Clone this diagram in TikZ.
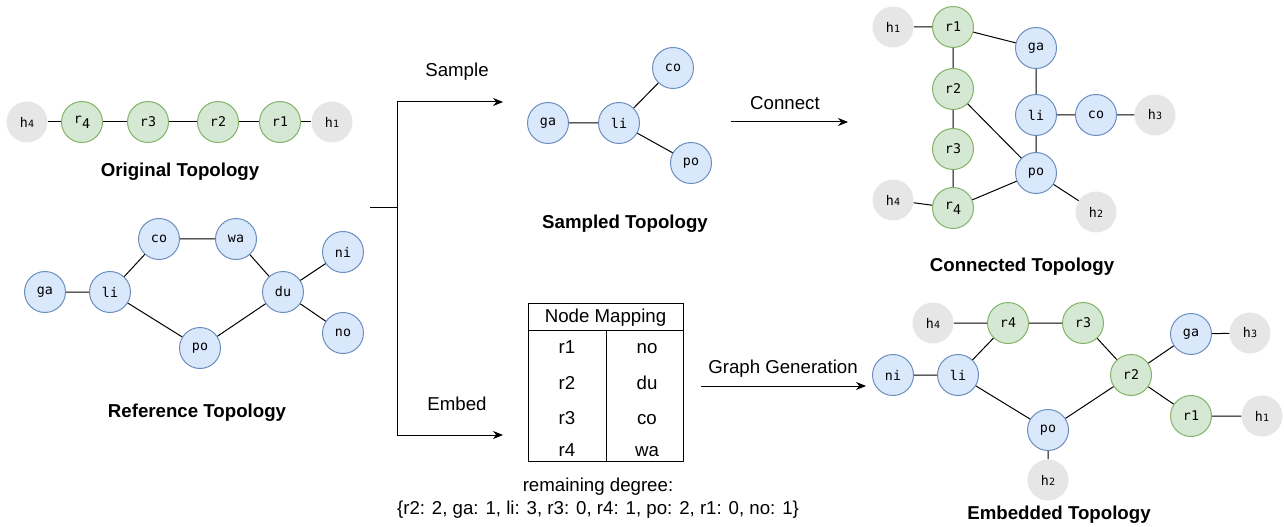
\documentclass[tikz,border=0pt]{standalone}
\usepackage{fontspec}
\setmainfont{Liberation Sans}
\setmonofont{DejaVu Sans Mono}
\usetikzlibrary{arrows.meta}
\definecolor{rtfill}{HTML}{D5E8D4}
\definecolor{rtline}{HTML}{82B366}
\definecolor{dcfill}{HTML}{DAE8FC}
\definecolor{dcline}{HTML}{6C8EBF}
\definecolor{hsfill}{HTML}{E6E6E6}
\newcommand\hn[1]{h{\fontsize{7.5}{7.5}\selectfont#1}}
\newcommand\rs[1]{r\raisebox{-.7ex}{#1}}
\tikzset{
	vx/.style={circle,minimum size=30.75pt,inner sep=0pt,font=\ttfamily\fontsize{10}{10}\selectfont},
	rt/.style={vx,draw=rtline,fill=rtfill,line width=.75pt},
	dc/.style={vx,draw=dcline,fill=dcfill,line width=.75pt},
	hs/.style={vx,fill=hsfill},
	ttl/.style={font=\bfseries\fontsize{14}{14}\selectfont},
	lbl/.style={font=\fontsize{14}{14}\selectfont},
	cell/.style={lbl,text height=10pt,text depth=3pt},
	ln/.style={line width=.75pt},
	ar/.style={ln,-{Stealth[length=7.5pt,width=6pt]}}
}
\begin{document}
\begin{tikzpicture}[x=.75pt,y=-.75pt,line join=round]
	\useasboundingbox (0,0) rectangle (1284,527);
	% original
	\foreach \n/\x/\s/\t in {h4/27/hs/\hn4,r4/82/rt/\rs4,r3/148/rt/r3,r2/218/rt/r2,r1/280/rt/r1,h1/332/hs/\hn1}
	\node[\s] (o\n) at (\x,122) {\t};
	\draw[ln] (oh4)--(or4)--(or3)--(or2)--(or1)--(oh1);
	\node[ttl] (otitle) at (180,172) {Original Topology};
	% reference
	\foreach \n/\x/\y in {ga/45/292,li/110/292,co/159/239,wa/236/239,du/283/292,ni/343/252,no/343/333,po/200/348}
	\node[dc] (f\n) at (\x,\y) {\n};
	\draw[ln] (fga)--(fli)--(fco)--(fwa)--(fdu)--(fni) (fli)--(fpo)--(fdu)--(fno);
	\node[ttl] (ftitle) at (197,413) {Reference Topology};
	% fork
	\coordinate (fork) at (370,208);
	\coordinate (split) at (397,208);
	\coordinate (up) at (397,102);
	\coordinate (down) at (397,435);
	\coordinate (upend) at (503,102);
	\coordinate (downend) at (503,435);
	\draw[ln] (fork)--(split) (up)--(down);
	\draw[ar] (up)--(upend);
	\draw[ar] (down)--(downend);
	\node[lbl] (sample) at (457,72) {Sample};
	\node[lbl] (embed) at (457,404) {Embed};
	% sampled
	\foreach \n/\x/\y in {ga/548/123,li/619/123,co/673/68,po/691/163}
	\node[dc] (s\n) at (\x,\y) {\n};
	\draw[ln] (sga)--(sli)--(sco) (sli)--(spo);
	\node[ttl] (stitle) at (625,224) {Sampled Topology};
	% connect
	\coordinate (cfrom) at (731,122);
	\coordinate (cto) at (848,122);
	\draw[ar] (cfrom)--(cto);
	\node[lbl] (connect) at (785,103) {Connect};
	\foreach \n/\x/\y/\s/\t in {h1/893/27/hs/\hn1,r1/953/27/rt/r1,ga/1036/48/dc/ga,r2/953/89/rt/r2,li/1036/115/dc/li,co/1096/115/dc/co,h3/1155/115/hs/\hn3,r3/953/149/rt/r3,po/1036/173/dc/po,r4/953/208/rt/\rs4,h4/893/200/hs/\hn4,h2/1096/212/hs/\hn2}
	\node[\s] (c\n) at (\x,\y) {\t};
	\draw[ln] (ch1)--(cr1)--(cga)--(cli)--(cco)--(ch3) (cr1)--(cr2)--(cr3)--(cr4)--(cpo)--(ch2)
	(cr2)--(cpo)--(cli) (ch4)--(cr4);
	\node[ttl] (ctitle) at (1022,267) {Connected Topology};
	% mapping
	\node[draw,ln,minimum width=116.25pt,minimum height=118.5pt,inner sep=0pt] (map) at (605.5,382) {};
	\coordinate (hl) at (528,330);
	\coordinate (hr) at (683,330);
	\coordinate (vt) at (606,330);
	\coordinate (vb) at (606,461);
	\draw[ln] (hl)--(hr) (vt)--(vb);
	\node[cell] (mhead) at (605.5,318) {Node Mapping};
	\foreach \a/\b/\y in {r1/no/349,r2/du/385,r3/co/420,r4/wa/452}{
		\node[cell] (m\a) at (567,\y) {\a};
		\node[cell] (m\b) at (647,\y) {\b};
	}
	\node[lbl,align=center] (degree) at (598,498) {remaining degree:\\[3pt]\{r2: 2, ga: 1, li: 3, r3: 0, r4: 1, po: 2, r1: 0, no: 1\}};
	% generation
	\coordinate (gfrom) at (701,386);
	\coordinate (gto) at (866,386);
	\draw[ar] (gfrom)--(gto);
	\node[lbl] (generate) at (783,369) {Graph Generation};
	% embedded
	\foreach \n/\x/\y/\s/\t in {h4/933/323/hs/\hn4,r4/1008/323/rt/r4,r3/1083/323/rt/r3,ni/893/375/dc/ni,li/958/375/dc/li,r2/1131/375/rt/r2,ga/1191/334/dc/ga,h3/1250/333/hs/\hn3,r1/1191/416/rt/r1,h1/1262/416/hs/\hn1,po/1048/430/dc/po,h2/1048/480/hs/\hn2}
	\node[\s] (e\n) at (\x,\y) {\t};
	\draw[ln] (eh4)--(er4)--(er3)--(er2)--(ega)--(eh3) (eni)--(eli)--(er4) (eli)--(epo)--(er2)--(er1)--(eh1)
	(epo)--(eh2);
	\node[ttl] (etitle) at (1059,515) {Embedded Topology};
\end{tikzpicture}
\end{document}
